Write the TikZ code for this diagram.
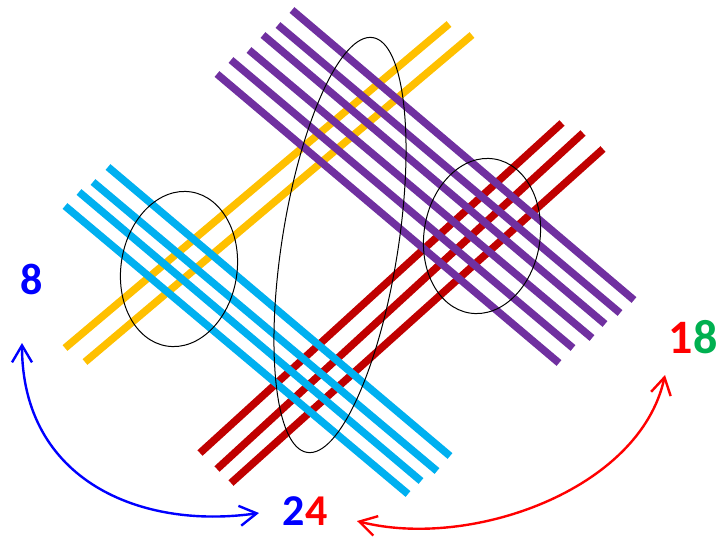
\documentclass[tikz,border=0pt]{standalone}
\usepackage{fontspec}
\setmainfont{Carlito}
\usetikzlibrary{arrows.meta}
\definecolor{jaune}{HTML}{FFC000}
\definecolor{ciel}{HTML}{00B0F0}
\definecolor{lilas}{HTML}{7030A0}
\definecolor{bordeaux}{HTML}{C00000}
\definecolor{vert}{HTML}{00B050}
\tikzset{epais/.style={line width=7.5pt}}
\newcommand{\trait}[3]{\draw[#1,epais] (#2) -- (#3)}
\newcommand{\patate}[4]{\draw[line width=1pt,rotate around={#4:(#1)}] (#1) ellipse (#2 and #3)}
\newcommand{\chiffre}[0]{\fontsize{44}{50}\selectfont\bfseries}

\begin{document}
\begin{tikzpicture}[x=1pt,y=-1pt,
  fleche/.style={line width=2.4pt,{Straight Barb[length=17pt,width=20pt]}-{Straight Barb[length=17pt,width=20pt]}}]
\useasboundingbox (0,0) rectangle (723,539);
%Yellow lines
	\trait{jaune}{65,348}{449,24};
	\trait{jaune}{85,362}{472,35};
%Red lines
	\trait{bordeaux}{200,453}{562,123};
	\trait{bordeaux}{217,469}{583,133};
	\trait{bordeaux}{231,483}{603,149};
%Blue lines
	\trait{ciel}{108,167}{450,456};
	\trait{ciel}{93,182}{437,471};
	\trait{ciel}{79,192}{421,481};
	\trait{ciel}{65,206}{408,494};
%Purple lines
	\trait{lilas}{292,10}{634,300};
	\trait{lilas}{278,25}{620,313};
	\trait{lilas}{263,35}{605,324};
	\trait{lilas}{249,50}{592,338};
	\trait{lilas}{231,60}{573,348};
	\trait{lilas}{217,74}{559,363};
%Ellipses
	\patate{179,269}{58}{78}{-9};
	\patate{340,245}{58}{210}{-9};
	\patate{482,236}{58}{78}{-9};
%Numbers
	\node[text=blue,font=\chiffre] (huit) at (32,279) {8};
	\node[font=\chiffre] (vingtquatre) at (305,511) {\textcolor{blue}{2}\textcolor{red}{4}};
	\node[font=\fontsize{48}{54}\selectfont\bfseries] (dixhuit) at (693,337) {\textcolor{red}{1}\textcolor{vert}{8}};
%Arrows
	\coordinate (b1) at (22,343);
	\coordinate (b2) at (259,513);
	\coordinate (r1) at (357,521);
	\coordinate (r2) at (665,375);
	\draw[fleche,blue] (b1) .. controls (22,480) and (140,530) .. (b2);
	\draw[fleche,red] (r1) .. controls (470,550) and (640,490) .. (r2);
\end{tikzpicture}
\end{document}
